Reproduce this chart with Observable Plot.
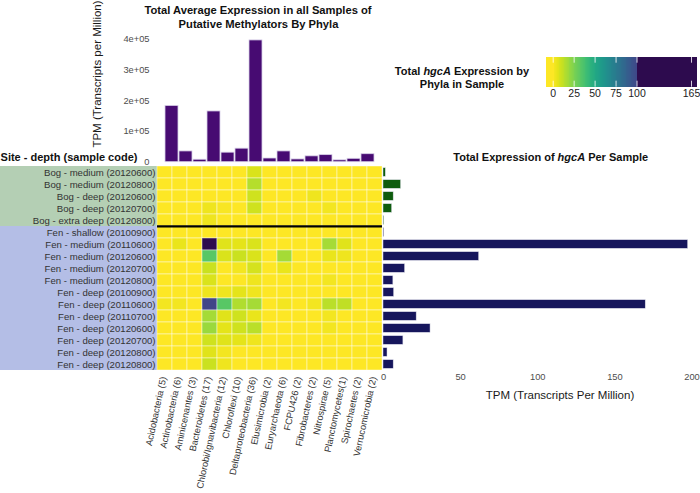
<!DOCTYPE html>
<html><head><meta charset="utf-8">
<script src="https://cdn.jsdelivr.net/npm/d3@7"></script>
<script src="https://cdn.jsdelivr.net/npm/@observablehq/plot@0.6"></script>
<style>
html,body{margin:0;padding:0;background:#fff;}
#root{position:relative;width:700px;height:493px;overflow:hidden;font-family:"Liberation Sans",Arial,sans-serif;}
#root svg{position:absolute;left:0;top:0;}
.t{position:absolute;white-space:nowrap;transform:translate(-50%,-50%);color:#111;line-height:1;}
.b{font-weight:bold;font-size:11.2px;}
</style></head><body><div id="root"></div>
<script>
// ---------------- data ----------------
const phyla = ["Acidobacteria (5)", "Actinobacteria (6)", "Aminicenantes (3)", "Bacteroidetes (17)",
  "Chlorobi/Ignavibacteria (12)", "Chloroflexi (10)", "Deltaproteobacteria (36)", "Elusimicrobia (2)",
  "Euryarchaeota (6)", "FCPU426 (2)", "Fibrobacteres (2)", "Nitrospirae (5)", "Planctomycetes(1)",
  "Spirochaetes (2)", "Verrucomicrobia (2)"];
const phylaAvgTPM = [183000, 35000, 8000, 165000, 31000, 44000, 396000, 12000, 35000, 9000, 19000, 23000, 6000, 11000, 26000];

const samples = ["Bog - medium (20120600)", "Bog - medium (20120800)", "Bog - deep (20120600)", "Bog - deep (20120700)",
  "Bog - extra deep (20120800)", "Fen - shallow (20100900)", "Fen - medium (20110600)", "Fen - medium (20120600)",
  "Fen - medium (20120700)", "Fen - medium (20120800)", "Fen - deep (20100900)", "Fen - deep (20110600)",
  "Fen - deep (20110700)", "Fen - deep (20120600)", "Fen - deep (20120700)", "Fen - deep (20120800)",
  "Fen - deep (20120800)"];
const sites = ["Bog", "Bog", "Bog", "Bog", "Bog", "Fen", "Fen", "Fen", "Fen", "Fen", "Fen", "Fen", "Fen", "Fen", "Fen", "Fen", "Fen"];
const hgcaTotalTPM = [1.5, 11.4, 6.6, 5.6, 0.5, 0.4, 197.5, 62, 14, 6.4, 6.9, 170, 21.5, 30.5, 12.9, 2.6, 6.6];

// hgcA expression by phylum (columns follow `phyla`) in each sample (rows follow `samples`)
const heatValues = [
  [0, 0, 0, 0, 0, 0, 7, 0, 0, 0, 0, 0, 0, 0, 0],
  [0, 0, 0, 0, 0, 0, 14, 0, 0, 0, 0, 0, 0, 0, 0],
  [0, 0, 0, 0, 0, 0, 9, 0, 0, 0, 3, 0, 0, 0, 0],
  [0, 0, 0, 3, 1, 0, 9, 0, 0, 0, 0, 2, 0, 0, 0],
  [0, 0, 0, 3, 0, 0, 0, 0, 0, 0, 0, 0, 0, 0, 0],
  [0, 0, 0, 0, 0, 0, 0, 0, 0, 0, 0, 0, 0, 0, 0],
  [0, 4, 0, 165, 6, 5, 7, 0, 0, 0, 0, 17, 6, 0, 0],
  [0, 0, 0, 33, 7, 10, 7, 0, 17, 0, 0, 4, 3, 0, 0],
  [0, 0, 0, 10, 0, 2, 8, 0, 4, 0, 0, 0, 0, 0, 0],
  [0, 0, 0, 7, 0, 0, 3, 0, 0, 0, 0, 2, 0, 0, 0],
  [0, 0, 0, 3, 3, 5, 3, 0, 0, 0, 0, 0, 0, 0, 0],
  [2, 2, 0, 100, 33, 15, 17, 0, 2, 0, 2, 13, 12, 0, 0],
  [0, 0, 0, 17, 6, 9, 4, 0, 0, 0, 0, 2, 0, 0, 0],
  [0, 0, 0, 19, 5, 9, 13, 0, 0, 0, 0, 2, 0, 0, 0],
  [0, 0, 0, 9, 6, 5, 3, 0, 0, 0, 0, 0, 0, 0, 0],
  [0, 0, 0, 6, 2, 0, 0, 0, 0, 0, 0, 0, 0, 0, 0],
  [0, 0, 0, 10, 3, 0, 0, 0, 0, 0, 0, 0, 0, 0, 0]
];

const topTicks = [0, 100000, 200000, 300000, 400000];
const rightTicks = [0, 50, 100, 150, 200];
const legendTicks = [0, 25, 50, 75, 100, 165];
const siteNames = ["Bog", "Fen"];

// ---------------- layout ----------------
const W = 700, H = 493;
const gridL = 157, gridR = 382, gridT = 163.1, gridB = 372.9;
const topBase = 161.7, topMax = 38.7;
const rightX0 = 383, rightX200 = 691.5;
const legL = 552.7, legR = 691, legT = 56.7, legB = 86.7;
const idx = samples.map((_, i) => i);
const step = (gridB - gridT) / samples.length;
const font = "'Liberation Sans', Arial, sans-serif";
const baseStyle = (size, color) => ({background: "transparent", overflow: "visible", fontFamily: font, fontSize: size, color});

// colour scale: reversed viridis over 0..100, dark purple above 100
const dark = "#2d0b4e";
const cDomain = [], cRange = [];
for (let v = 0; v <= 100; v += 5) { cDomain.push(v); cRange.push(d3.interpolateViridis(1 - 0.0079 * v)); }
cDomain.push(100.001, 400); cRange.push(dark, dark);
const colorOpts = {type: "linear", domain: cDomain, range: cRange, clamp: true};

const root = document.getElementById("root");

// label background bands
root.appendChild(Plot.plot({
  width: W, height: H, marginLeft: 0, marginRight: W - gridL, marginTop: gridT, marginBottom: H - gridB,
  style: baseStyle("10px", "#333"),
  x: {domain: [0, 1], axis: null},
  y: {type: "band", domain: idx, padding: 0, axis: null},
  color: {domain: siteNames, range: ["#b4cfb4", "#b4bee6"]},
  marks: [Plot.barX(idx, {y: d => d, x1: 0, x2: 1, fill: d => sites[d]})]
}));

// heatmap with row labels and rotated phylum labels
const cells = [];
heatValues.forEach((row, r) => row.forEach((v, j) => cells.push({r, p: phyla[j], v})));
root.appendChild(Plot.plot({
  width: W, height: H, marginLeft: gridL, marginRight: W - gridR, marginTop: gridT, marginBottom: H - gridB,
  style: baseStyle("9.6px", "#333"),
  x: {domain: phyla, padding: 0, axis: null},
  y: {type: "band", domain: idx, padding: 0, tickSize: 0, tickPadding: 2, tickFormat: i => samples[i], label: null},
  color: colorOpts,
  marks: [
    Plot.cell(cells, {x: "p", y: "r", fill: "v", stroke: "#ffffff", strokeOpacity: 0.55, strokeWidth: 0.8}),
    Plot.ruleY([5], {y: d => d, dy: -step / 2, stroke: "#000", strokeWidth: 2.2}),
    Plot.text(phyla, {x: d => d, text: d => d, frameAnchor: "bottom", rotate: -78, textAnchor: "end",
      lineAnchor: "middle", dy: 3.5, dx: -1.5, fontSize: 9.3, fill: "#333"})
  ]
}));

// top bar chart
root.appendChild(Plot.plot({
  width: W, height: H, marginLeft: gridL, marginRight: W - gridR, marginTop: topMax, marginBottom: H - topBase,
  style: baseStyle("9.3px", "#4d4d4d"),
  x: {domain: phyla, padding: 0.1, axis: null},
  y: {domain: [0, 400000], ticks: topTicks, tickSize: 0, tickPadding: 8, label: null,
      tickFormat: v => v === 0 ? "0" : (v / 100000) + "e+05"},
  marks: [Plot.barY(phyla, {x: d => d, y: (d, i) => phylaAvgTPM[i], fill: "#470b72", stroke: "#d8d0e8", strokeWidth: 0.8})]
}));

// right bar chart
root.appendChild(Plot.plot({
  width: W, height: H, marginLeft: rightX0, marginRight: W - rightX200, marginTop: gridT, marginBottom: H - gridB,
  style: baseStyle("9.3px", "#4d4d4d"),
  x: {domain: [0, 200], ticks: rightTicks, tickSize: 0, tickPadding: 0, label: null},
  y: {type: "band", domain: idx, padding: 0, axis: null},
  color: {domain: siteNames, range: ["#0e5c0e", "#16165c"]},
  marks: [Plot.barX(idx, {y: d => d, x: d => hgcaTotalTPM[d], fill: d => sites[d], insetTop: 1.7, insetBottom: 1.7,
    stroke: "#dcdce8", strokeWidth: 0.5})]
}));

// colour legend
const legSteps = d3.range(-8, 171, 1);
root.appendChild(Plot.plot({
  width: W, height: H, marginLeft: legL, marginRight: W - legR, marginTop: legT, marginBottom: H - legB,
  style: baseStyle("10.5px", "#222"),
  x: {domain: [0, 165], ticks: legendTicks, tickSize: 0, tickPadding: 2, label: null},
  color: colorOpts,
  marks: [
    Plot.barX(legSteps, {x1: d => d, x2: d => d + 1.6, fill: d => d, shapeRendering: "crispEdges"}),
    Plot.tickX(legendTicks, {x: d => d, stroke: "#fff", strokeWidth: 0.8, insetBottom: 24}),
    Plot.tickX(legendTicks, {x: d => d, stroke: "#fff", strokeWidth: 0.8, insetTop: 24})
  ]
}));

// titles (HTML text)
function addText(html, x, y, cls, extra) {
  const d = document.createElement("div");
  d.className = "t " + (cls || "");
  d.innerHTML = html;
  d.style.left = x + "px"; d.style.top = y + "px";
  if (extra) Object.assign(d.style, extra);
  root.appendChild(d);
}
addText("Total Average Expression in all Samples of", 258, 10.5, "b");
addText("Putative Methylators By Phyla", 258.5, 24.5, "b");
addText("TPM (Transcripts per Million)", 98, 74, "", {fontSize: "11.5px", transform: "translate(-50%,-50%) rotate(-90deg)", color: "#1a1a1a"});
addText("Site - depth (sample code)", 69, 156.5, "b", {fontSize: "11px"});
addText("Total <i>hgcA</i> Expression by", 462, 71, "b", {fontSize: "11px"});
addText("Phyla in Sample", 462, 84, "b", {fontSize: "11px"});
addText("Total Expression of <i>hgcA</i> Per Sample", 550.7, 157, "b", {fontSize: "11px"});
addText("TPM (Transcripts Per Million)", 560, 396, "", {fontSize: "11.5px", color: "#1a1a1a"});
</script>
</body></html>
